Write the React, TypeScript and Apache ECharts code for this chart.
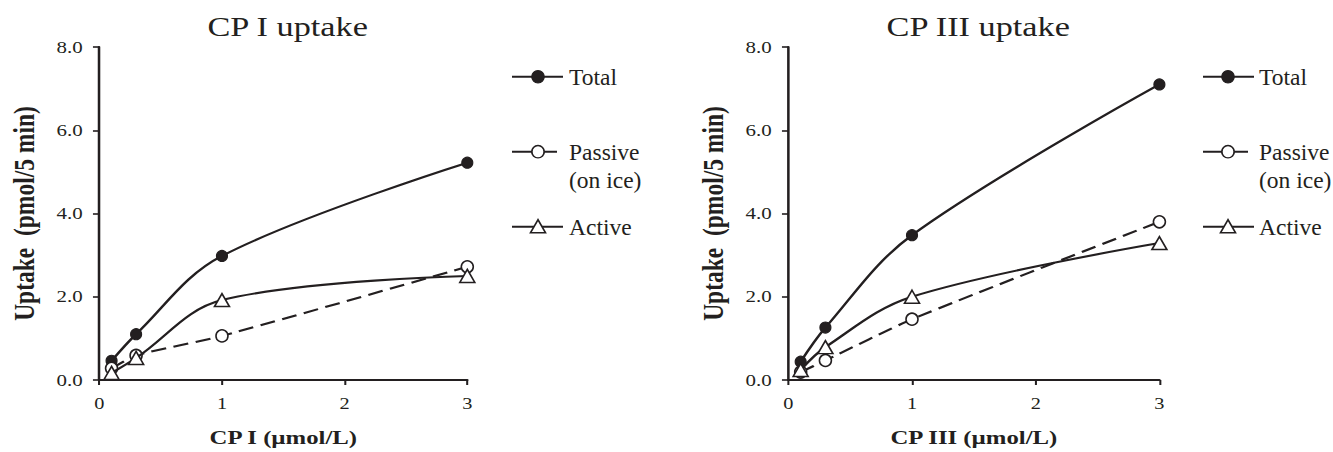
import React, { useEffect, useRef } from "react";
import * as echarts from "echarts";

// ---- data ----
const xValues = [0.1, 0.3, 1, 3];
const cp1Total = [0.46, 1.1, 2.98, 5.22];
const cp1Passive = [0.28, 0.59, 1.06, 2.72];
const cp1Active = [0.17, 0.53, 1.92, 2.5];
const cp3Total = [0.44, 1.26, 3.48, 7.1];
const cp3Passive = [0.19, 0.47, 1.46, 3.8];
const cp3Active = [0.24, 0.79, 2.0, 3.29];
const seriesNames = ["Total", "Passive\n(on ice)", "Active"];
const titles = ["CP I uptake", "CP III uptake"];
const xNames = ["CP I (µmol/L)", "CP III (µmol/L)"];
const yName = "Uptake  (pmol/5 min)";
const yTicks = { min: 0, max: 8, interval: 2 };
const xTicks = { min: 0, max: 3, interval: 1 };

// ---- layout ----
const W = 1050;
const H = 452;
const S = 1333 / W; // horizontal stretch of the figure
const cx = (px: number) => px / S; // reference px -> chart px
const INK = "#231f20";
const FONT = "Liberation Serif";
const LW = 2.1;

const grids = [
  { left: cx(99.3), right: cx(467.3) },
  { left: cx(788.3), right: cx(1159.4) },
];
const legendPos = [
  { x1: cx(512), x2: cx(563), xm: cx(538), xs: cx(557), xt: cx(569) },
  { x1: cx(1203), x2: cx(1254), xm: cx(1228), xs: cx(1248), xt: cx(1259) },
];
const legendY = [76.7, 151.7, 226.7];

function pairs(vals: number[]) {
  return xValues.map((x, i) => [x, vals[i]]);
}

function makeLegend(k: number) {
  const p = legendPos[k];
  const els: any[] = [];
  const r = 6.2;
  legendY.forEach((y, i) => {
    els.push({
      type: "line",
      shape: { x1: p.x1, y1: y, x2: i === 1 ? p.xs : p.x2, y2: y },
      style: { stroke: INK, lineWidth: LW },
    });
    if (i === 0) {
      els.push({ type: "ellipse", shape: { cx: p.xm, cy: y, rx: r / S, ry: r }, style: { fill: INK, stroke: INK, lineWidth: 1 } });
    } else if (i === 1) {
      els.push({ type: "ellipse", shape: { cx: p.xm, cy: y, rx: r / S, ry: r }, style: { fill: "#fff", stroke: INK, lineWidth: 1.4 } });
    } else {
      els.push({
        type: "polygon",
        shape: { points: [[p.xm, y - 7], [p.xm - 7.5 / S, y + 6], [p.xm + 7.5 / S, y + 6]] },
        style: { fill: "#fff", stroke: INK, lineWidth: 1.4 },
      });
    }
    els.push({
      type: "text",
      x: p.xt,
      y: y - 14,
      scaleX: 1 / S,
      style: {
        text: seriesNames[i],
        fontSize: 23.5,
        fontFamily: FONT,
        fill: INK,
        lineHeight: 28,
        verticalAlign: "top",
        align: "left",
      },
    });
  });
  return els;
}

export default function App() {
  const ref = useRef<HTMLDivElement>(null);
  useEffect(() => {
    if (!ref.current) return;
    const chart = echarts.init(ref.current, undefined, { renderer: "svg" });
    const data = [
      [cp1Total, cp1Passive, cp1Active],
      [cp3Total, cp3Passive, cp3Active],
    ];
    const series: any[] = [];
    data.forEach((set, k) => {
      series.push({
        type: "line",
        name: "Total",
        xAxisIndex: k,
        yAxisIndex: k,
        data: pairs(set[0]),
        smooth: 0.35,
        symbol: "circle",
        symbolSize: [11 / S, 11],
        lineStyle: { color: INK, width: LW },
        itemStyle: { color: INK, borderColor: INK, borderWidth: 1 },
        z: 2,
      });
      series.push({
        type: "line",
        name: "Passive (on ice)",
        xAxisIndex: k,
        yAxisIndex: k,
        data: pairs(set[1]),
        smooth: 0.2,
        symbol: "circle",
        symbolSize: [12 / S, 12],
        lineStyle: { color: INK, width: LW, type: [12, 6] },
        itemStyle: { color: "#fff", borderColor: INK, borderWidth: 1.4 },
        z: 3,
      });
      series.push({
        type: "line",
        name: "Active",
        xAxisIndex: k,
        yAxisIndex: k,
        data: pairs(set[2]),
        smooth: 0.35,
        symbol: "triangle",
        symbolSize: [15 / S, 13],
        lineStyle: { color: INK, width: LW },
        itemStyle: { color: "#fff", borderColor: INK, borderWidth: 1.4 },
        z: 4,
      });
    });

    const axisCommon = {
      axisLine: { show: true, onZero: false, lineStyle: { color: INK, width: 2 } },
      axisTick: { show: true, length: 5, lineStyle: { color: INK, width: 1.6 } },
      splitLine: { show: false },
    };

    chart.setOption({
      animation: false,
      backgroundColor: "#fff",
      title: grids.map((g, k) => ({
        text: titles[k],
        left: (g.left + g.right) / 2 - cx(2),
        top: 9,
        textAlign: "center",
        textStyle: { fontFamily: FONT, fontSize: 27, fontWeight: "normal", color: INK },
      })),
      grid: grids.map((g) => ({ left: g.left, width: g.right - g.left, top: 47, height: 333 })),
      xAxis: grids.map((g, k) => ({
        type: "value",
        gridIndex: k,
        min: xTicks.min,
        max: xTicks.max,
        interval: xTicks.interval,
        name: xNames[k],
        nameLocation: "middle",
        nameGap: 47,
        nameTextStyle: { fontFamily: FONT, fontSize: 19.5, fontWeight: "bold", color: INK },
        axisLabel: { margin: 16, fontFamily: FONT, fontSize: 16, color: INK },
        ...axisCommon,
      })),
      yAxis: grids.map((g, k) => ({
        type: "value",
        gridIndex: k,
        min: yTicks.min,
        max: yTicks.max,
        interval: yTicks.interval,
        name: yName,
        nameLocation: "middle",
        nameGap: 47,
        nameTextStyle: { fontFamily: FONT, fontSize: 23.5, fontWeight: "bold", color: INK },
        axisLabel: {
          margin: 13,
          fontFamily: FONT,
          fontSize: 16.5,
          color: INK,
          formatter: (v: number) => v.toFixed(1),
        },
        ...axisCommon,
      })),
      series,
      graphic: [...makeLegend(0), ...makeLegend(1)],
    });
    return () => chart.dispose();
  }, []);
  return (
    <div
      ref={ref}
      style={{
        position: "absolute",
        left: 0,
        top: 0,
        width: W,
        height: H,
        transform: `scaleX(${S})`,
        transformOrigin: "0 0",
      }}
    />
  );
}
